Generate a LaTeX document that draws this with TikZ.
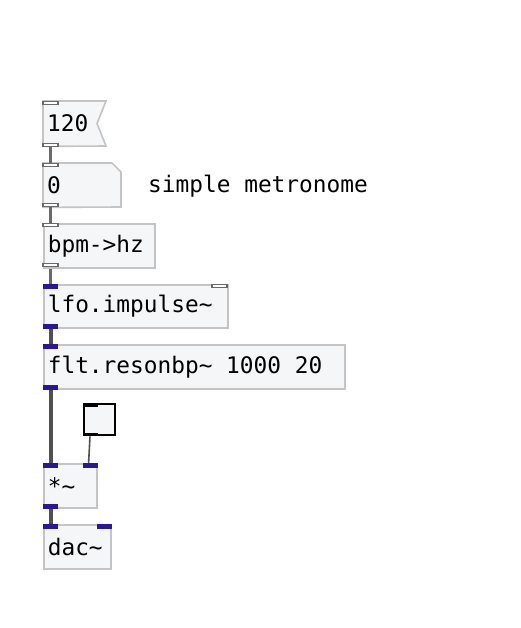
\documentclass[tikz,border=0pt]{standalone}
\usepackage{fontspec}
\setmonofont[WordSpace={1,0,0}]{DejaVu Sans Mono}
\usetikzlibrary{calc}
\definecolor{boxfill}{HTML}{F5F6F8}
\definecolor{boxline}{HTML}{C4C4C4}
\definecolor{sigblue}{HTML}{2A14A0}
\definecolor{ctlgray}{HTML}{6A6A6A}
\definecolor{wiregray}{HTML}{505050}
\newcommand\pdsp{\hspace*{0.602em}}
\newcommand\pdtl{\char"007E\relax}
\tikzset{
  pdtext/.style={font=\ttfamily\fontsize{22.8}{26}\selectfont, text=black},
  pdbox/.style={pdtext, draw=boxline, line width=1.6pt, fill=boxfill, anchor=north west,
    inner xsep=4pt, inner ysep=0pt, align=left},
  msgtext/.style={pdtext, anchor=north west, inner xsep=4pt, inner ysep=0pt, align=left},
  ctlport/.style={draw=ctlgray, fill=white, line width=1.2pt},
  sigport/.style={fill=sigblue},
  ctlwire/.style={draw=ctlgray, line width=2.2pt},
  sigwire/.style={draw=wiregray, line width=4pt},
  thinwire/.style={draw=wiregray, line width=1.6pt},
}
\begin{document}
\begin{tikzpicture}[x=1pt,y=-1pt]
\useasboundingbox[fill=white] (0,0) rectangle (521,628);
% message box 120
\node[msgtext, text width=54pt, minimum height=45pt] (msg) at (43,101) {120};
\draw[draw=boxline, fill=boxfill, line width=1.6pt] (msg.north west) -- (106,101) -- (97,123.5) -- (106,146) -- (msg.south west) -- cycle;
\node[msgtext, text width=54pt, minimum height=45pt] at (43,101) {120};
% number box 0
\node[msgtext, text width=70pt, minimum height=44pt] (num) at (43,163) {0};
\draw[draw=boxline, fill=boxfill, line width=1.6pt] (num.north west) -- (112,163) -- (121,172) -- (121,207) -- (num.south west) -- cycle;
\node[msgtext, text width=70pt, minimum height=44pt] at (43,163) {0};
% comment
\node[pdtext, anchor=west, inner sep=0pt] (cmt) at (148,186) {simple\pdsp metronome};
% bpm->hz
\node[pdbox, text width=103pt, minimum height=44pt] (bpm) at (43,223) {bpm->hz};
% lfo.impulse~
\node[pdbox, text width=176pt, minimum height=43pt] (lfo) at (43,284) {lfo.impulse\pdtl};
% flt.resonbp~
\node[pdbox, text width=293pt, minimum height=44pt] (flt) at (43,344) {flt.resonbp\pdtl\pdsp 1000\pdsp 20};
% toggle
\node[draw=black, line width=2.4pt, fill=boxfill, minimum width=31pt, minimum height=31pt, inner sep=0pt, anchor=north west] (tgl) at (83,403) {};
% *~
\node[pdbox, text width=45pt, minimum height=44pt] (mul) at (43,463) {*\pdtl};
% dac~
\node[pdbox, text width=59pt, minimum height=44pt] (dac) at (43,524) {dac\pdtl};

% wires
\draw[ctlwire] ($(msg.south west)+(7.5,0)$) -- ($(num.north west)+(7.5,0)$);
\draw[ctlwire] ($(num.south west)+(7.5,0)$) -- ($(bpm.north west)+(7.5,0)$);
\draw[ctlwire] ($(bpm.south west)+(7.5,0)$) -- ($(lfo.north west)+(7.5,0)$);
\draw[sigwire] ($(lfo.south west)+(7.5,0)$) -- ($(flt.north west)+(7.5,0)$);
\draw[sigwire] ($(flt.south west)+(7.5,0)$) -- ($(mul.north west)+(7.5,0)$);
\draw[sigwire] ($(mul.south west)+(7.5,0)$) -- ($(dac.north west)+(7.5,0)$);
\draw[thinwire] ($(tgl.south west)+(7,0)$) -- ($(mul.north east)+(-9,0)$);

% ports
\draw[ctlport] (43,101.5) rectangle (58,104.5);
\draw[ctlport] (43,143.5) rectangle (58,146.5);
\draw[ctlport] (43,163.5) rectangle (58,166.5);
\draw[ctlport] (43,203.5) rectangle (58,206.5);
\draw[ctlport] (43,223.5) rectangle (58,226.5);
\draw[ctlport] (43,263.5) rectangle (58,266.5);
\fill[sigport] (lfo.north west) rectangle ++(15,4.5);
\draw[ctlport] (212,284.5) rectangle (227,287.5);
\fill[sigport] (lfo.south west) rectangle ++(15,-4.5);
\fill[sigport] (flt.north west) rectangle ++(15,4.5);
\fill[sigport] (flt.south west) rectangle ++(15,-4.5);
\fill[sigport] (mul.north west) rectangle ++(15,4.5);
\fill[sigport] (mul.north east) rectangle ++(-15,4.5);
\fill[sigport] (mul.south west) rectangle ++(15,-4.5);
\fill[sigport] (dac.north west) rectangle ++(15,4.5);
\fill[sigport] (dac.north east) rectangle ++(-15,4.5);
\fill[black] (tgl.north west) rectangle ++(15,3.5);
\fill[black] (tgl.south west) rectangle ++(15,-3.5);
\end{tikzpicture}
\end{document}
